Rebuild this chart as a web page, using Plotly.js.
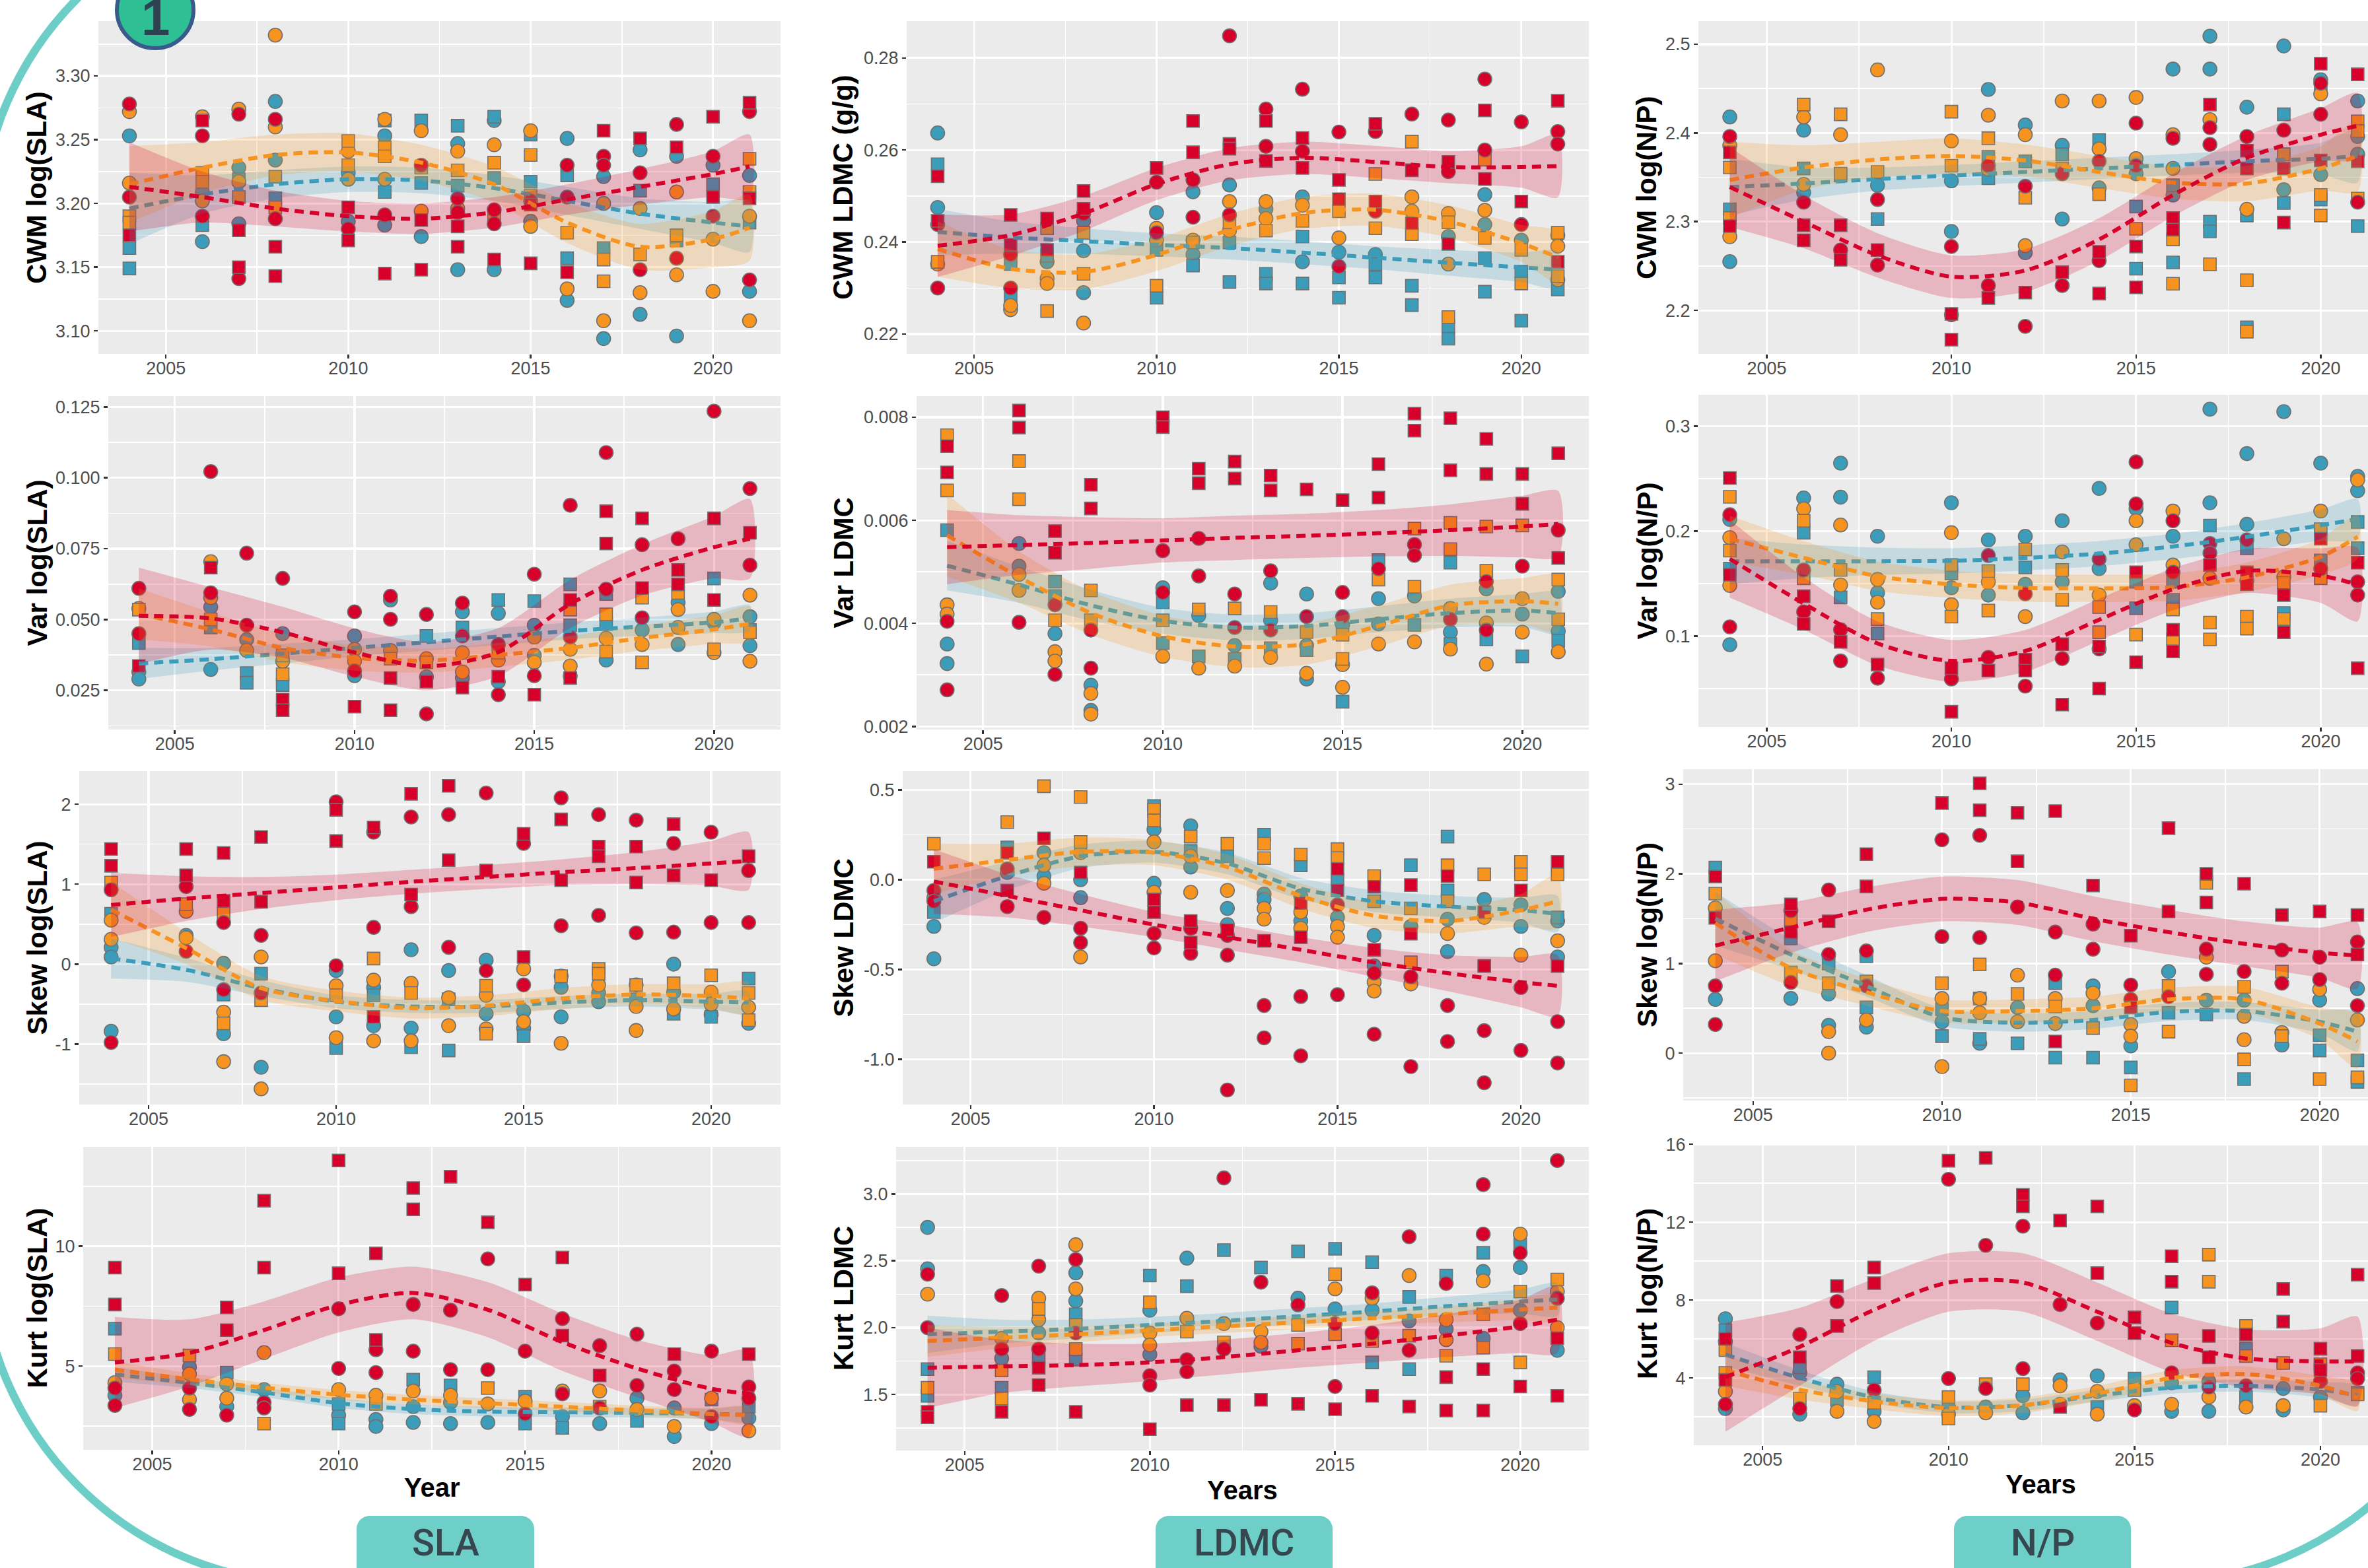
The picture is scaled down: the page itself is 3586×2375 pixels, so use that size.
<!DOCTYPE html>
<html><head><meta charset="utf-8">
<script src="https://cdn.plot.ly/plotly-3.0.1.min.js"></script>
<style>html,body{margin:0;padding:0;background:#fff;overflow:hidden}#chart{width:3586px;height:2375px}</style>
</head><body><div id="chart"></div>
<script>
// ---------------- data ----------------
const YEARS = [2004,2006,2007,2008,2010,2011,2012,2013,2014,2015,2016,2017,2018,2019,2020,2021];
const SMOOTH_X = [2004,2006,2008,2010,2012,2014,2016,2018,2020,2021];
const X_TICKS = [2005,2010,2015,2020];

// CWM log(SLA)
const cwmSLA_red_c = [[3.278,3.205],[3.253,3.19],[3.27,3.141],[3.266,3.188],[3.18],[3.191],[3.23],[3.204,3.193],[3.195,3.184],[3.202],[3.23,3.205],[3.237,3.23],[3.224,3.148],[3.262,3.157],[3.237,3.19],[3.272,3.14]];
const cwmSLA_red_s = [[3.175],[3.265],[3.15,3.179],[3.166,3.143],[3.197,3.171],[3.145],[3.187,3.148],[3.182,3.166],[3.156],[3.153,3.199],[3.146],[3.257],[3.251],[3.244],[3.268,3.205],[3.279,3.204]];
const cwmSLA_orange_c = [[3.272,3.216],[3.268,3.202],[3.274,3.217],[3.332,3.26],[3.241,3.219],[3.266,3.219],[3.257,3.194],[3.241,3.196],[3.246],[3.257,3.182],[3.133],[3.2,3.108],[3.196,3.13],[3.209,3.144],[3.172,3.131],[3.19,3.108]];
const cwmSLA_orange_s = [[3.19,3.185],[3.224,3.217],[3.205],[3.221,3.197],[3.249,3.23],[3.244,3.237],[3.228],[3.226],[3.232,3.192],[3.238,3.206],[3.177],[3.156,3.139],[3.16],[3.175],[],[3.235,3.209]];
const cwmSLA_blue_c = [[3.253],[3.17,3.209],[3.228,3.184],[3.28,3.234],[3.224,3.186],[3.253,3.183],[3.174],[3.247,3.148],[3.265,3.148],[3.186],[3.251,3.124],[3.221,3.094],[3.242,3.113],[3.237,3.096],[3.23],[3.222,3.131]];
const cwmSLA_blue_s = [[3.165,3.149],[3.183],[3.219],[3.204],[],[3.209,3.265],[3.265,3.216],[3.261,3.214],[3.268,3.22],[3.217,3.254],[3.222,3.157],[3.165],[3.21],[3.171],[3.215],[3.185]];
const cwmSLA_red_fit = [3.213,3.205,3.196,3.19,3.188,3.193,3.203,3.213,3.223,3.229];
const cwmSLA_red_se = [0.035,0.02,0.014,0.012,0.012,0.012,0.012,0.014,0.018,0.025];
const cwmSLA_orange_fit = [3.215,3.228,3.238,3.24,3.232,3.215,3.185,3.166,3.172,3.181];
const cwmSLA_orange_se = [0.03,0.02,0.016,0.015,0.014,0.014,0.016,0.018,0.022,0.026];
const cwmSLA_blue_fit = [3.196,3.207,3.215,3.219,3.218,3.212,3.202,3.192,3.185,3.182];
const cwmSLA_blue_se = [0.028,0.015,0.011,0.01,0.01,0.01,0.011,0.012,0.016,0.02];

// CWM LDMC
const cwmLDMC_red_c = [[0.2438,0.23],[0.2373,0.23],[],[0.2462],[0.253,0.242],[0.2535,0.2454],[0.2848,0.2459],[0.2689,0.2608],[0.2732,0.2597],[0.2639,0.2347],[0.264,0.2467],[0.2678],[0.2665,0.2553],[0.2754,0.26],[0.2661,0.2438],[0.264,0.2613]];
const cwmLDMC_red_s = [[0.2543,0.2446],[0.2459,0.2394],[0.2451,0.2383],[0.2511,0.2472],[0.2561],[0.2663,0.2595],[0.2613,0.2603],[0.2663,0.2576],[0.2626,0.2561],[0.2535,0.2493],[0.2657,0.2488],[0.2556,0.2441],[0.2574,0.2396],[0.2686,0.2537],[0.2488],[0.2707,0.2357]];
const cwmLDMC_orange_c = [[0.2352],[0.2253,0.2262],[0.2321,0.231],[0.2224],[0.243,0.2404],[0.2404],[0.2488,0.2425],[0.2488,0.2451],[0.248],[0.2409],[],[0.2498,0.2467],[0.2462,0.2352],[0.2469],[],[0.2391,0.2318]];
const cwmLDMC_orange_s = [[0.2357],[],[0.225,0.243],[0.2331,0.242],[0.2305],[0.2399],[0.2443],[0.2425],[0.2446],[0.2467],[0.2548,0.243],[0.2618,0.2417],[0.2443,0.2237],[0.2579,0.2409],[0.231,0.2383],[0.242,0.2326]];
const cwmLDMC_blue_c = [[0.2637,0.2475],[],[0.2357],[0.2446,0.2381,0.229],[0.2464],[0.2509,0.2373],[0.2524],[0.2472],[0.2498,0.2357],[0.2378],[0.2373],[],[0.2412],[0.2503,0.2438],[0.2404],[0.2415]];
const cwmLDMC_blue_s = [[0.2569],[0.2281,0.2352],[0.237],[],[0.2279,0.2383],[0.2349],[0.2313,0.2399],[0.2331,0.231],[0.2412,0.231],[0.2323,0.2279],[0.2352,0.2323],[0.2305,0.2263],[0.2216,0.219],[0.2365,0.2292],[0.2336,0.2229],[0.2297]];
const cwmLDMC_red_fit = [0.2392,0.2415,0.2462,0.2526,0.2569,0.2583,0.2574,0.2563,0.2563,0.2565];
const cwmLDMC_red_se = [0.0068,0.0045,0.0038,0.0035,0.0035,0.0035,0.0035,0.0035,0.0045,0.0068];
const cwmLDMC_orange_fit = [0.2385,0.2342,0.2335,0.2372,0.2426,0.2463,0.247,0.2445,0.2397,0.2367];
const cwmLDMC_orange_se = [0.006,0.0042,0.0038,0.0035,0.0035,0.0035,0.0035,0.0035,0.004,0.0055];
const cwmLDMC_blue_fit = [0.2422,0.241,0.2402,0.2394,0.2387,0.2377,0.2366,0.2355,0.2345,0.234];
const cwmLDMC_blue_se = [0.005,0.0035,0.0028,0.0025,0.0025,0.0025,0.0025,0.0028,0.0032,0.004];

// CWM log(N/P)
const cwmNP_red_c = [[2.396],[2.322],[2.268],[2.325,2.251],[2.272,2.195],[2.363,2.228],[2.34,2.182],[2.354,2.228],[2.368,2.256],[2.411,2.363],[2.394],[2.406,2.387],[2.396],[2.403],[2.456,2.421],[2.322]];
const cwmNP_red_s = [[2.378,2.295],[2.296,2.279],[2.296,2.257],[2.268],[2.196,2.167],[2.214],[2.22],[2.243],[2.266,2.219],[2.272,2.226],[2.304,2.291],[2.432],[2.38,2.36],[2.36,2.299],[2.478,2.369],[2.466,2.368]];
const cwmNP_orange_c = [[2.386,2.283],[2.418,2.342],[2.398],[2.471],[2.391],[2.42,2.359],[2.398,2.273],[2.436],[2.436,2.382],[2.44,2.371],[2.398,2.36],[2.415],[2.314],[],[2.444],[]];
const cwmNP_orange_s = [[2.361,2.304],[2.432],[2.421,2.354],[2.356],[2.424,2.363],[2.394],[2.327],[2.36],[2.331],[2.292],[2.28,2.23],[2.252],[2.234,2.176],[2.376],[2.33,2.307],[2.413,2.402,2.326]];
const cwmNP_blue_c = [[2.418,2.255],[2.403,2.333],[],[2.341],[2.346,2.289],[2.449],[2.409,2.265],[2.386,2.303],[2.338],[2.354],[2.472,2.33],[2.509,2.472],[2.429],[2.498,2.336],[2.46,2.353],[2.436,2.396,2.376]];
const cwmNP_blue_s = [[2.314],[2.36],[2.352],[2.303],[],[2.373,2.349],[2.368],[2.376],[2.392],[2.317,2.247],[2.341,2.254],[2.3,2.289],[2.307,2.181],[2.421,2.321],[2.449,2.325],[2.295]];
const cwmNP_red_fit = [2.339,2.30,2.262,2.238,2.245,2.28,2.33,2.372,2.398,2.408];
const cwmNP_red_se = [0.045,0.03,0.025,0.024,0.024,0.024,0.024,0.025,0.03,0.037];
const cwmNP_orange_fit = [2.347,2.361,2.37,2.374,2.369,2.356,2.344,2.343,2.36,2.374];
const cwmNP_orange_se = [0.043,0.025,0.02,0.02,0.018,0.018,0.018,0.02,0.025,0.04];
const cwmNP_blue_fit = [2.339,2.343,2.348,2.352,2.356,2.36,2.364,2.368,2.371,2.374];
const cwmNP_blue_se = [0.032,0.018,0.013,0.012,0.012,0.012,0.012,0.013,0.018,0.03];

// Var log(SLA)
const varSLA_red_c = [[0.061,0.045],[0.1022,0.0594],[0.0734,0.048],[0.0645],[0.0527,0.0319],[0.0582,0.0501],[0.0518,0.0167],[0.0558,0.0442],[0.0412,0.0235],[0.066,0.0302],[0.0903,0.0438],[0.1089,0.0607],[0.0764,0.0506],[0.0785],[0.1235],[0.0962,0.0692]];
const varSLA_red_s = [[0.0336],[0.0683],[],[0.0218,0.018],[0.0193],[0.0294,0.018],[0.0281],[0.026],[0.0298],[0.0235],[0.0569,0.0294],[0.0882,0.0768],[0.0857,0.0611],[0.0675,0.0624],[0.0857,0.0569],[0.0806]];
const varSLA_orange_c = [[0.0539],[0.0704,0.0577],[0.0391],[0.0353],[0.0395,0.0353],[0.0391],[0.0362],[0.0383,0.0315],[0.0357],[0.0438,0.0349],[0.0336,0.0395],[0.0434],[0.0412],[0.0535,0.0472],[0.0501,0.0383],[0.0586,0.0353]];
const varSLA_orange_s = [[0.0535],[0.0501],[],[0.0307,0.0374],[],[0.0362],[0.0349],[],[0.0383],[],[0.0535],[0.0518,0.0387],[0.0577,0.0349],[0.0594],[0.0395],[0.0455]];
const varSLA_blue_c = [[0.0315,0.029],[0.0544,0.0324],[0.0429],[0.045],[0.0442,0.0302],[0.0569],[0.0298],[0.0527,0.0294],[0.0522,0.0281],[0.048,0.0374],[0.0302],[0.0357],[0.0463],[0.056,0.0412],[0.0489],[0.051,0.0408]];
const varSLA_blue_s = [[0.0417],[0.0472],[0.0311,0.0277],[0.0269],[],[],[0.0442],[0.0472],[0.0569],[0.0565],[0.0624,0.048],[0.059,0.0484],[],[],[0.0645],[0.0463]];
const varSLA_red_fit = [0.0513,0.0504,0.0455,0.0384,0.0335,0.0385,0.0555,0.0675,0.0755,0.0785];
const varSLA_red_se = [0.017,0.011,0.009,0.0085,0.0085,0.0085,0.0085,0.009,0.011,0.014];
const varSLA_orange_fit = [0.052,0.0465,0.04,0.0365,0.0355,0.0375,0.04,0.0435,0.0465,0.0485];
const varSLA_orange_se = [0.009,0.006,0.005,0.0045,0.0042,0.0042,0.0042,0.0045,0.005,0.006];
const varSLA_blue_fit = [0.0345,0.036,0.038,0.04,0.042,0.044,0.046,0.0475,0.049,0.0505];
const varSLA_blue_se = [0.0055,0.004,0.0035,0.003,0.003,0.003,0.003,0.0032,0.0038,0.0045];

// Var LDMC
const varLDMC_red_c = [[0.00404,0.00271],[0.00402],[0.00436,0.00301],[0.00387,0.00313],[0.00541,0.0046],[0.00565,0.00492],[0.00457,0.00392],[0.00502,0.00387],[0.00413],[0.0046,0.00413],[0.00506],[0.00553,0.00532],[0.00408],[0.00481,0.00387],[0.00511],[0.00581]];
const varLDMC_red_s = [[0.00744,0.00693],[0.00813,0.0078],[0.00579,0.00537],[0.00669,0.00623],[0.008,0.00781],[0.007,0.00672],[0.00714,0.00681],[0.00687,0.00658],[0.0066],[0.00639],[0.00709,0.00644],[0.00807,0.00774],[0.00798,0.00697],[0.00758,0.0069],[0.0069,0.00632],[0.0073,0.00527]];
const varLDMC_orange_c = [[0.00436,0.00418],[0.00495,0.00464],[0.00345,0.00327],[0.00264,0.00224],[0.00336],[0.00313],[0.00317],[0.00334],[0.00303],[0.0032,0.00276],[0.0036],[0.00364],[0.00429,0.0035],[0.00401,0.00321],[0.00448,0.00383],[0.00345]];
const varLDMC_orange_s = [[0.00765,0.00658],[0.00715,0.00641],[0.00406],[0.00464,0.00406],[0.00406],[0.00427],[0.00429],[0.00422],[0.00383],[0.00378,0.00331],[0.00485],[0.00584,0.00471],[0.00595,0.00544],[0.00588,0.00502],[0.0059],[0.00485,0.00408]];
const varLDMC_blue_c = [[0.0036,0.00322],[0.00555,0.00511],[0.0038],[0.0028,0.00231],[0.00469],[0.00415],[0.00357],[0.00478,0.00406],[0.00457,0.00357,0.00292],[0.00397],[0.00448,0.00399],[0.00453],[0.00383],[0.00467],[0.00418],[0.00462,0.00385]];
const varLDMC_blue_s = [[0.00581],[],[0.00481,0.00453],[],[0.00441,0.00362],[0.00336],[0.00331],[0.00352],[0.00348],[0.00248],[0.00523],[0.00397],[0.00518,0.0036],[0.00369],[0.00336],[0.00366]];
const varLDMC_red_fit = [0.00548,0.00552,0.00556,0.00561,0.00566,0.0057,0.00575,0.00581,0.00588,0.00593];
const varLDMC_red_se = [0.00072,0.00058,0.0005,0.00043,0.00043,0.00043,0.00045,0.0005,0.0006,0.00064];
const varLDMC_orange_fit = [0.00571,0.0049,0.0042,0.00375,0.00355,0.0036,0.00395,0.00435,0.00443,0.00438];
const varLDMC_orange_se = [0.0008,0.0005,0.00042,0.0004,0.0004,0.0004,0.0004,0.0004,0.00045,0.00055];
const varLDMC_blue_fit = [0.00512,0.00475,0.00435,0.00405,0.00392,0.00395,0.00408,0.0042,0.00425,0.0042];
const varLDMC_blue_se = [0.00048,0.00035,0.0003,0.00025,0.00025,0.00025,0.00025,0.00028,0.00032,0.0004];

// Var log(N/P)
const varNP_red_c = [[0.2155,0.1087],[0.163,0.123],[0.106,0.0763],[0.0598],[0.0591],[0.1767,0.0797],[0.1402,0.0523],[0.0785],[0.1733,0.0877],[0.2658,0.2258],[0.2098,0.1607],[0.1881,0.179],[0.1916],[],[0.1642],[0.1516,0.139]];
const varNP_red_s = [[0.2505,0.1584],[0.1379,0.1116],[0.0945],[0.0728],[0.0694,0.0279],[0.0671],[0.0774,0.0671],[0.0922,0.0347],[0.09,0.05],[0.1607,0.0751],[0.1059,0.0854],[0.1676],[0.1607,0.1493],[0.139,0.1036],[0.1927],[0.1699,0.0694]];
const varNP_orange_c = [[0.1938,0.1482],[0.2212],[0.2057,0.1486],[0.1539,0.1322],[0.1984,0.1299],[0.1516],[0.1185],[0.1801],[0.139],[0.2098,0.187],[0.219,0.1676],[0.155],[0.1527],[0.1927,0.1562],[0.219],[0.2486]];
const varNP_orange_s = [[0.2326,0.1813],[0.2098,0.155],[0.163],[0.1162],[0.1676,0.1185],[0.1619,0.1242],[0.1824],[0.163,0.1345],[0.1276,0.1036],[0.1014],[0.1253,0.0968],[0.1128,0.0968],[0.1185,0.1071],[0.1505,0.1162],[0.2018,0.155],[]];
const varNP_blue_c = [[0.211,0.0918],[0.2315],[0.2646,0.2322],[0.195,0.1413],[0.2269,0.1459],[0.1916,0.139],[0.195,0.1493],[0.2098,0.1516],[0.2406,0.1642],[0.2212],[0.195],[0.316,0.2269],[0.2737,0.2064],[0.3137],[0.2646],[0.2521,0.2384]];
const varNP_blue_s = [[0.1642],[0.1984],[0.1368],[0.1025],[0.1596],[],[0.1653],[],[],[0.1516,0.1265],[0.1516,0.1345],[0.2052],[0.1836],[0.1219],[0.1721],[0.2087,0.1836]];
const varNP_red_fit = [0.1735,0.131,0.093,0.0763,0.0858,0.1155,0.1445,0.162,0.1575,0.149];
const varNP_red_se = [0.037,0.025,0.021,0.02,0.02,0.02,0.02,0.021,0.026,0.035];
const varNP_orange_fit = [0.1925,0.1745,0.157,0.1493,0.1457,0.1454,0.1465,0.156,0.1755,0.1945];
const varNP_orange_se = [0.022,0.016,0.014,0.013,0.013,0.013,0.013,0.014,0.017,0.021];
const varNP_blue_fit = [0.1712,0.1712,0.1712,0.1716,0.1744,0.1785,0.1853,0.1945,0.2055,0.2113];
const varNP_blue_se = [0.022,0.016,0.013,0.012,0.012,0.012,0.012,0.013,0.015,0.019];

// Skew log(SLA)
const skewSLA_red_c = [[0.93,-0.98],[0.97,0.16],[0.52,-0.32],[0.36,-0.36],[2.03,-0.02],[1.65,0.46],[1.84,0.72],[1.87,0.21],[2.14,-0.08],[1.51,-0.26],[2.08,0.48],[1.87,0.61],[1.8,0.39],[1.51,0.4],[1.65,0.52],[1.17,0.52]];
const skewSLA_red_s = [[1.44,1.23],[1.44,1.11],[1.39,0.79],[1.59,0.78],[1.93,1.54],[1.71,-0.66],[2.13,0.87],[2.23,1.3],[1.17],[1.63,0.09],[1.81,1.05],[1.47,1.35],[1.47,1.02],[1.75,1.11],[1.05],[1.35]];
const skewSLA_orange_c = [[0.55,0.31],[0.66,0.33],[-0.6,-1.22],[0.09,-1.56],[-0.27,-0.92],[-0.2,-0.96],[-0.24,-0.96],[-0.42,-0.77],[-0.39,-0.81],[-0.06,-0.72],[-0.15,-0.99],[-0.26],[-0.53,-0.83],[-0.56],[-0.35,-0.5],[-0.54]];
const skewSLA_orange_s = [[1.02],[0.75],[0.63,-0.74],[-0.45],[-0.39],[0.07],[-0.36],[],[-0.27,-0.87],[],[-0.15],[-0.06,-0.12],[-0.26],[-0.24],[-0.14],[-0.36,-0.7]];
const skewSLA_blue_c = [[0.21,0.09,-0.84],[0.36],[0.01,-0.87],[-1.29],[-0.08,-0.66],[-0.29,-0.77],[0.18,-0.8],[-0.08],[0.05,-0.62],[-0.59,-0.8],[-0.29,-0.66],[-0.47,-0.36],[-0.26],[0.0,-0.35],[-0.63],[-0.74]];
const skewSLA_blue_s = [[0.63],[],[-0.38],[-0.12],[-1.05],[-0.39],[-1.04],[-0.44,-1.08],[],[-0.9],[],[],[-0.44],[-0.62],[-0.66],[-0.18]];
const skewSLA_red_fit = [0.74,0.82,0.89,0.96,1.03,1.09,1.15,1.2,1.26,1.29];
const skewSLA_red_se = [0.4,0.28,0.2,0.16,0.15,0.15,0.16,0.2,0.28,0.36];
const skewSLA_orange_fit = [0.68,0.2,-0.3,-0.46,-0.55,-0.52,-0.43,-0.38,-0.4,-0.43];
const skewSLA_orange_se = [0.35,0.2,0.15,0.13,0.13,0.13,0.13,0.13,0.15,0.2];
const skewSLA_blue_fit = [0.07,-0.07,-0.3,-0.47,-0.53,-0.53,-0.48,-0.45,-0.47,-0.48];
const skewSLA_blue_se = [0.25,0.15,0.1,0.08,0.08,0.08,0.08,0.08,0.1,0.14];

// Skew LDMC
const skewLDMC_red_c = [[-0.06,-0.12],[0.06,-0.15],[-0.21],[-0.27,-0.35],[-0.3,-0.38],[-0.27,-0.41],[-0.31,-0.42,-1.17],[-0.7,-0.88],[-0.65,-0.98],[-0.14,-0.64],[-0.52,-0.86],[-0.54,-1.04],[-0.7,-0.9],[-0.84,-1.13],[-0.6,-0.95],[-0.79,-1.02]];
const skewLDMC_red_s = [[0.1],[0.15,-0.06],[0.23],[0.04],[-0.11,-0.18],[-0.23,-0.35],[-0.28],[-0.34],[-0.13,-0.32],[0.06,-0.06],[-0.04,-0.39],[-0.03,-0.3],[0.02],[-0.18,-0.48],[-0.06],[0.1,-0.48]];
const skewLDMC_orange_c = [[-0.1],[],[0.08,-0.02],[0.15,-0.43],[0.21,-0.07],[0.13,-0.07],[-0.06],[-0.16,-0.22],[-0.18,-0.27],[-0.26,-0.32],[-0.57,-0.62],[-0.58],[-0.3],[-0.21],[-0.42],[-0.34]];
const skewLDMC_orange_s = [[0.2],[0.32],[0.52],[0.46,0.21],[0.39,0.33],[0.24],[0.2],[0.2,0.12],[0.14],[0.17,0.12],[0.02,-0.12],[-0.16,-0.46],[0.08,-0.12],[0.03],[0.1,0.03],[0.03]];
const skewLDMC_blue_c = [[-0.26,-0.44],[0.04],[0.15,0.02],[0.0,-0.1],[0.28,-0.02],[0.3,0.07],[-0.16,-0.25],[-0.08,-0.11],[-0.09,-0.23],[-0.21],[-0.31,-0.48],[-0.26],[-0.22,-0.4],[-0.11],[-0.14,-0.26],[-0.23,-0.43]];
const skewLDMC_blue_s = [[-0.18],[0.18],[],[],[0.41],[0.16],[0.13],[0.25],[0.08],[0.0],[],[0.08],[0.24,-0.06],[],[],[-0.21]];
const skewLDMC_red_fit = [-0.01,-0.09,-0.17,-0.25,-0.32,-0.39,-0.46,-0.52,-0.57,-0.59];
const skewLDMC_red_se = [0.18,0.12,0.09,0.07,0.07,0.07,0.08,0.1,0.14,0.17];
const skewLDMC_orange_fit = [0.06,0.11,0.155,0.15,0.07,-0.09,-0.2,-0.23,-0.17,-0.12];
const skewLDMC_orange_se = [0.14,0.09,0.08,0.07,0.07,0.07,0.07,0.07,0.09,0.15];
const skewLDMC_blue_fit = [-0.12,0.02,0.13,0.155,0.09,-0.05,-0.12,-0.15,-0.17,-0.19];
const skewLDMC_blue_se = [0.12,0.08,0.065,0.06,0.06,0.06,0.06,0.06,0.07,0.1];

// Skew log(N/P)
const skewNP_red_c = [[0.75,0.32],[1.59,0.79],[1.82,1.1],[1.14,0.75],[2.38,1.3],[2.43,1.29],[1.63],[1.35,0.87],[1.44,1.16],[0.76,0.6],[0.63],[1.16,0.88],[0.91],[1.15,0.78],[1.07,0.82],[1.24,0.53]];
const skewNP_red_s = [[1.97,1.51],[1.66,1.35],[1.47],[2.22,1.86],[2.79],[3.01,2.71],[2.68,2.14],[2.7,0.13],[1.87],[1.31,0.51],[2.51,1.58],[2.0,1.68],[1.89],[1.54],[1.58],[1.54,1.1]];
const skewNP_orange_c = [[1.62,1.03],[],[0.24,0.0],[0.37],[0.61,-0.15],[0.61,0.45],[0.87,0.35],[0.61,0.33],[0.67],[0.32,0.19],[],[1.07],[0.41,0.15],[0.23],[0.71],[0.37]];
const skewNP_orange_s = [[1.78],[1.48,0.9],[0.78],[0.8],[0.78],[0.99],[0.66],[0.52],[0.28],[-0.36],[0.75,0.24],[1.9],[0.74,-0.07],[0.91,0.19],[-0.29],[-0.27]];
const skewNP_blue_c = [[0.6],[0.61],[0.66,0.31],[0.29],[0.35],[0.11],[0.51],[],[0.75,0.53],[0.08],[0.91],[0.59],[0.59],[0.09],[0.59],[0.72]];
const skewNP_blue_s = [[2.07],[1.28],[1.0],[1.08,0.51],[0.49,0.19],[0.61,0.16],[0.11],[0.78,-0.05],[-0.05],[-0.16],[0.45],[0.43],[-0.29],[],[0.2,0.03],[-0.08,-0.32]];
const skewNP_red_fit = [1.2,1.4,1.6,1.72,1.68,1.5,1.35,1.22,1.12,1.09];
const skewNP_red_se = [0.4,0.28,0.25,0.25,0.25,0.25,0.25,0.25,0.28,0.37];
const skewNP_orange_fit = [1.45,0.95,0.68,0.47,0.47,0.5,0.6,0.6,0.33,0.13];
const skewNP_orange_se = [0.35,0.2,0.15,0.13,0.13,0.13,0.13,0.14,0.18,0.3];
const skewNP_blue_fit = [1.5,1.1,0.75,0.4,0.34,0.37,0.46,0.47,0.35,0.24];
const skewNP_blue_se = [0.3,0.17,0.12,0.1,0.1,0.1,0.1,0.1,0.13,0.22];

// Kurt log(SLA)
const kurtSLA_red_c = [[4.08,3.36],[4.08,3.19],[2.95],[3.48,3.25],[7.39,4.9],[5.68,4.73],[7.57,5.62],[7.33,4.85],[9.47,4.85],[5.62,3.01],[6.98,3.84],[5.85,3.25],[6.33,4.19],[4.79,4.02],[5.62,2.89],[4.13,3.66]];
const kurtSLA_red_s = [[9.11,7.57],[],[7.45,6.5],[11.9,9.11],[13.58,8.87],[9.7,6.09],[12.43,11.54],[12.9],[11.0],[8.4],[9.53,6.27],[4.61],[],[5.5],[],[5.5]];
const kurtSLA_orange_c = [[4.31],[4.67,3.6],[4.25,3.66],[5.56],[4.02],[3.78],[3.96],[3.78],[3.42],[3.54],[3.96],[3.96],[3.19],[2.48],[3.66],[2.3]];
const kurtSLA_orange_s = [[5.5],[5.44],[],[2.6],[],[3.42],[],[],[4.08],[],[],[3.31],[],[],[],[]];
const kurtSLA_blue_c = [[3.78],[4.96],[3.31],[4.02],[2.95],[2.77,2.48],[3.31,2.65],[3.48,2.6],[2.65],[],[2.89],[2.6],[3.66],[3.25,2.06],[2.6],[2.83]];
const kurtSLA_blue_s = [[6.56],[],[4.73],[],[3.42,2.6],[],[4.43],[4.19],[],[3.72,2.6],[2.42],[],[2.71],[],[3.6],[3.31]];
const kurtSLA_red_fit = [5.15,5.55,6.5,7.55,8.05,7.35,6.0,4.9,4.05,3.85];
const kurtSLA_red_se = [1.9,1.4,1.2,1.15,1.1,1.15,1.2,1.2,1.4,1.8];
const kurtSLA_orange_fit = [4.85,4.45,4.1,3.8,3.6,3.45,3.3,3.15,3.0,2.95];
const kurtSLA_orange_se = [0.35,0.25,0.2,0.2,0.2,0.2,0.2,0.2,0.25,0.35];
const kurtSLA_blue_fit = [4.65,4.3,3.9,3.45,3.2,3.1,3.07,3.05,3.0,2.97];
const kurtSLA_blue_se = [0.3,0.22,0.2,0.2,0.2,0.2,0.2,0.2,0.22,0.3];

// Kurt LDMC
const kurtLDMC_red_c = [[2.4,2.0],[2.24,1.84],[2.46,1.84],[2.51,1.96],[1.64,1.57],[1.76,1.67],[3.12,1.84],[2.34],[2.17],[2.03,1.56],[2.26,1.96],[2.68,1.83],[2.33],[3.07,2.7],[2.56,2.03],[3.25,2.22]];
const kurtLDMC_red_s = [[1.37,1.33],[1.37],[1.7,1.57],[1.37],[1.24],[1.42],[1.42],[1.46],[1.43],[1.39],[1.49],[1.41],[1.63,1.38],[1.69,1.38],[1.56],[1.92,1.49]];
const kurtLDMC_orange_c = [[2.25],[1.92],[2.22,2.06],[2.62,2.29],[1.96,1.87],[2.07],[2.03],[1.97,1.89],[],[2.29],[2.22],[2.39],[2.06,1.91],[2.35],[2.7],[2.27,2.0]];
const kurtLDMC_orange_s = [[1.55],[1.68,1.47],[2.14],[2.02,1.84],[2.19],[1.97],[1.89],[],[2.02,1.88],[2.4,1.95],[1.9],[1.94],[1.79],[2.1,1.85],[2.27,1.74],[2.36]];
const kurtLDMC_blue_c = [[2.75,2.44],[1.77],[1.96],[2.41,2.2],[2.13,1.8],[2.52],[],[1.86],[2.22],[2.14],[2.13],[2.05],[1.99],[2.42,1.92],[2.45,2.13],[1.83]];
const kurtLDMC_blue_s = [[1.69,1.49],[1.55],[1.77],[2.1,1.76],[2.39],[2.31],[2.58],[2.45],[2.57],[2.59],[2.49,1.74],[2.23,1.69],[2.39],[2.56],[2.62],[]];
const kurtLDMC_red_fit = [1.7,1.71,1.72,1.74,1.78,1.83,1.88,1.94,2.01,2.06];
const kurtLDMC_red_se = [0.3,0.2,0.16,0.14,0.13,0.13,0.14,0.16,0.2,0.25];
const kurtLDMC_orange_fit = [1.9,1.925,1.95,1.98,2.01,2.04,2.07,2.1,2.135,2.15];
const kurtLDMC_orange_se = [0.12,0.08,0.06,0.05,0.05,0.05,0.05,0.06,0.08,0.1];
const kurtLDMC_blue_fit = [1.95,1.97,1.99,2.02,2.05,2.085,2.12,2.16,2.195,2.21];
const kurtLDMC_blue_se = [0.14,0.09,0.07,0.06,0.06,0.06,0.06,0.07,0.09,0.12];

// Kurt log(N/P)
const kurtNP_red_c = [[2.65],[6.23,2.43],[7.92],[3.38],[14.2,3.97],[10.81,3.46],[11.79,4.48],[7.77],[6.82],[2.36],[4.26],[3.53],[3.6],[],[3.82],[4.26,3.97]];
const kurtNP_red_s = [[6.01,3.9],[5.06],[8.72,6.67],[9.67,8.87],[15.15],[15.3],[13.4,12.81],[12.08,2.51],[12.81,9.38],[7.11,6.3],[10.25,8.94],[6.16,5.06],[6.23],[8.57,6.89],[5.5,4.41],[9.3,5.13]];
const kurtNP_orange_c = [[5.87,3.31],[],[3.31,2.29],[1.77],[2.14],[2.21],[],[3.6,2.65],[3.31,2.14],[2.58],[2.65],[3.02],[2.51],[2.58],[],[]];
const kurtNP_orange_s = [[5.43,4.26],[2.94],[],[2.73],[3.02,1.92],[3.68],[3.68],[],[],[3.38],[5.94],[10.33,8.94],[6.67,5.13],[4.77],[4.7,2.58],[3.16]];
const kurtNP_blue_c = [[7.04,2.43],[4.26,2.14],[3.68],[2.29],[2.51],[2.51],[3.09,2.21],[3.9],[4.11],[],[3.75,2.29],[3.82,2.29],[],[3.46,2.36],[3.02],[]];
const kurtNP_blue_s = [[6.45],[4.55],[2.87],[4.04],[],[],[],[],[2.51],[3.97],[7.62],[],[5.5,3.02],[],[],[3.24]];
const kurtNP_red_fit = [4.04,5.6,7.5,8.9,8.9,7.4,5.8,5.0,4.85,4.85];
const kurtNP_red_se = [2.8,2.0,1.6,1.5,1.5,1.5,1.5,1.5,1.7,2.3];
const kurtNP_orange_fit = [4.4,3.4,2.8,2.45,2.6,3.2,4.0,4.2,3.6,3.0];
const kurtNP_orange_se = [0.8,0.5,0.4,0.4,0.4,0.4,0.4,0.4,0.5,0.7];
const kurtNP_blue_fit = [5.2,4.0,3.0,2.5,2.6,3.1,3.5,3.6,3.4,3.1];
const kurtNP_blue_se = [0.6,0.4,0.3,0.3,0.3,0.3,0.3,0.3,0.4,0.5];

const Y_TITLES = ['CWM log(SLA)','CWM LDMC (g/g)','CWM log(N/P)','Var log(SLA)','Var LDMC','Var log(N/P)','Skew log(SLA)','Skew LDMC','Skew log(N/P)','Kurt log(SLA)','Kurt LDMC','Kurt log(N/P)'];
const Y_TICKS = [[3.10,3.15,3.20,3.25,3.30],[0.22,0.24,0.26,0.28],[2.2,2.3,2.4,2.5],[0.025,0.05,0.075,0.1,0.125],[0.002,0.004,0.006,0.008],[0.1,0.2,0.3],[-1,0,1,2],[-1,-0.5,0,0.5],[0,1,2,3],[5,10],[1.5,2,2.5,3],[4,8,12,16]];
const Y_DEC = [2,2,1,3,3,1,0,1,0,0,1,0];
const Y_RANGE = [[3.082,3.343],[0.2157,0.288],[2.151,2.526],[0.0112,0.1288],[0.00194,0.00841],[0.0135,0.3297],[-1.756,2.414],[-1.251,0.604],[-0.529,3.168],[1.505,14.15],[1.081,3.353],[0.55,16.07]];
const COLUMN_LABELS = ['SLA','LDMC','N/P'];
const X_TITLES = ['Year','Years','Years'];

// ---------------- build ----------------
const PANELS = [
  [cwmSLA_blue_c,cwmSLA_blue_s,cwmSLA_orange_c,cwmSLA_orange_s,cwmSLA_red_c,cwmSLA_red_s, cwmSLA_blue_fit,cwmSLA_blue_se,cwmSLA_orange_fit,cwmSLA_orange_se,cwmSLA_red_fit,cwmSLA_red_se],
  [cwmLDMC_blue_c,cwmLDMC_blue_s,cwmLDMC_orange_c,cwmLDMC_orange_s,cwmLDMC_red_c,cwmLDMC_red_s, cwmLDMC_blue_fit,cwmLDMC_blue_se,cwmLDMC_orange_fit,cwmLDMC_orange_se,cwmLDMC_red_fit,cwmLDMC_red_se],
  [cwmNP_blue_c,cwmNP_blue_s,cwmNP_orange_c,cwmNP_orange_s,cwmNP_red_c,cwmNP_red_s, cwmNP_blue_fit,cwmNP_blue_se,cwmNP_orange_fit,cwmNP_orange_se,cwmNP_red_fit,cwmNP_red_se],
  [varSLA_blue_c,varSLA_blue_s,varSLA_orange_c,varSLA_orange_s,varSLA_red_c,varSLA_red_s, varSLA_blue_fit,varSLA_blue_se,varSLA_orange_fit,varSLA_orange_se,varSLA_red_fit,varSLA_red_se],
  [varLDMC_blue_c,varLDMC_blue_s,varLDMC_orange_c,varLDMC_orange_s,varLDMC_red_c,varLDMC_red_s, varLDMC_blue_fit,varLDMC_blue_se,varLDMC_orange_fit,varLDMC_orange_se,varLDMC_red_fit,varLDMC_red_se],
  [varNP_blue_c,varNP_blue_s,varNP_orange_c,varNP_orange_s,varNP_red_c,varNP_red_s, varNP_blue_fit,varNP_blue_se,varNP_orange_fit,varNP_orange_se,varNP_red_fit,varNP_red_se],
  [skewSLA_blue_c,skewSLA_blue_s,skewSLA_orange_c,skewSLA_orange_s,skewSLA_red_c,skewSLA_red_s, skewSLA_blue_fit,skewSLA_blue_se,skewSLA_orange_fit,skewSLA_orange_se,skewSLA_red_fit,skewSLA_red_se],
  [skewLDMC_blue_c,skewLDMC_blue_s,skewLDMC_orange_c,skewLDMC_orange_s,skewLDMC_red_c,skewLDMC_red_s, skewLDMC_blue_fit,skewLDMC_blue_se,skewLDMC_orange_fit,skewLDMC_orange_se,skewLDMC_red_fit,skewLDMC_red_se],
  [skewNP_blue_c,skewNP_blue_s,skewNP_orange_c,skewNP_orange_s,skewNP_red_c,skewNP_red_s, skewNP_blue_fit,skewNP_blue_se,skewNP_orange_fit,skewNP_orange_se,skewNP_red_fit,skewNP_red_se],
  [kurtSLA_blue_c,kurtSLA_blue_s,kurtSLA_orange_c,kurtSLA_orange_s,kurtSLA_red_c,kurtSLA_red_s, kurtSLA_blue_fit,kurtSLA_blue_se,kurtSLA_orange_fit,kurtSLA_orange_se,kurtSLA_red_fit,kurtSLA_red_se],
  [kurtLDMC_blue_c,kurtLDMC_blue_s,kurtLDMC_orange_c,kurtLDMC_orange_s,kurtLDMC_red_c,kurtLDMC_red_s, kurtLDMC_blue_fit,kurtLDMC_blue_se,kurtLDMC_orange_fit,kurtLDMC_orange_se,kurtLDMC_red_fit,kurtLDMC_red_se],
  [kurtNP_blue_c,kurtNP_blue_s,kurtNP_orange_c,kurtNP_orange_s,kurtNP_red_c,kurtNP_red_s, kurtNP_blue_fit,kurtNP_blue_se,kurtNP_orange_fit,kurtNP_orange_se,kurtNP_red_fit,kurtNP_red_se]
];

const W = 3586, H = 2375;
// panel boxes in pixels: [left, right, top, bottom]
const BOX = [
  [149,1182,32,536],[1373,2406,32,536],[2572,3586,32,536],
  [164,1182,600,1105],[1388,2406,600,1105],[2572,3586,598,1101],
  [120,1182,1168,1673],[1367,2406,1168,1673],[2549,3586,1165,1667],
  [126,1182,1737,2196],[1357,2406,1737,2197],[2565,3586,1731,2189]
];
const TITLE_X = [56,1277,2494];
const COLS = ['#3B9DBA','#F7941F','#D7002A'];
const FILLS = ['rgba(59,157,186,0.22)','rgba(247,148,31,0.22)','rgba(215,0,42,0.22)'];
const FONT = 'Liberation Sans, Arial, Helvetica, sans-serif';

const traces = [];
const layout = {
  width: W, height: H, margin: {l:0,r:0,t:0,b:0},
  paper_bgcolor: '#FFFFFF', plot_bgcolor: '#EBEBEB',
  showlegend: false, annotations: [], shapes: []
};

function flatten(arr) {
  const x = [], y = [];
  arr.forEach((vals, i) => vals.forEach(v => { x.push(YEARS[i]); y.push(v); }));
  return {x, y};
}

PANELS.forEach((p, i) => {
  const n = i === 0 ? '' : String(i + 1);
  const xa = 'x' + n, ya = 'y' + n;
  const col = i % 3;
  const b = BOX[i];
  const xmax = col === 2 ? 2021.28 : 2021.85;
  const majors = Y_TICKS[i];
  const step = majors[1] - majors[0];
  const minors = [];
  for (let k = -3; k < majors.length + 3; k++) minors.push(majors[0] + (k + 0.5) * step);

  layout['xaxis' + n] = {
    domain: [b[0] / W, b[1] / W], anchor: ya, range: [2003.15, xmax],
    tickmode: 'array', tickvals: X_TICKS, ticktext: X_TICKS.map(String),
    showgrid: true, gridcolor: '#FFFFFF', gridwidth: 3.2,
    minor: {tickmode: 'array', tickvals: [2002.5,2007.5,2012.5,2017.5,2022.5], showgrid: true, gridcolor: '#FFFFFF', gridwidth: 1.6},
    ticks: 'outside', ticklen: 6, tickwidth: 2.5, tickcolor: '#333333', ticklabelstandoff: -8,
    tickfont: {family: FONT, size: 27, color: '#4D4D4D'},
    zeroline: false, showline: false, fixedrange: true
  };
  layout['yaxis' + n] = {
    domain: [1 - b[3] / H, 1 - b[2] / H], anchor: xa, range: Y_RANGE[i],
    tickmode: 'array', tickvals: majors, ticktext: majors.map(v => v.toFixed(Y_DEC[i])),
    showgrid: true, gridcolor: '#FFFFFF', gridwidth: 3.2,
    minor: {tickmode: 'array', tickvals: minors, showgrid: true, gridcolor: '#FFFFFF', gridwidth: 1.6},
    ticks: 'outside', ticklen: 6, tickwidth: 2.5, tickcolor: '#333333',
    tickfont: {family: FONT, size: 27, color: '#4D4D4D'},
    zeroline: false, showline: false, fixedrange: true
  };

  // points: blue, orange, red (circles then squares)
  for (let g = 0; g < 3; g++) {
    const c = flatten(p[g * 2]), s = flatten(p[g * 2 + 1]);
    traces.push({type:'scatter', mode:'markers', xaxis:xa, yaxis:ya, x:c.x, y:c.y, hoverinfo:'skip',
      marker:{symbol:'circle', size:21, color:COLS[g], line:{color:'#707070', width:1.6}}});
    traces.push({type:'scatter', mode:'markers', xaxis:xa, yaxis:ya, x:s.x, y:s.y, hoverinfo:'skip',
      marker:{symbol:'square', size:19, color:COLS[g], line:{color:'#707070', width:1.6}}});
  }
  // smooth: ribbon then line for each group
  for (let g = 0; g < 3; g++) {
    const fit = p[6 + g * 2], se = p[7 + g * 2];
    const hi = fit.map((v, k) => v + se[k]);
    const lo = fit.map((v, k) => v - se[k]);
    traces.push({type:'scatter', mode:'lines', xaxis:xa, yaxis:ya, hoverinfo:'skip',
      x: SMOOTH_X.concat(SMOOTH_X.slice().reverse()), y: hi.concat(lo.slice().reverse()),
      fill:'toself', fillcolor: FILLS[g], line:{width:0, shape:'spline', smoothing:0.7}});
    traces.push({type:'scatter', mode:'lines', xaxis:xa, yaxis:ya, hoverinfo:'skip',
      x: SMOOTH_X, y: fit, line:{color:COLS[g], width:6, dash:'14px,9px', shape:'spline', smoothing:0.8}});
  }

  layout.annotations.push({
    xref:'paper', yref:'paper', x: TITLE_X[col] / W, y: 1 - (b[2] + b[3]) / 2 / H,
    text: Y_TITLES[i], textangle: -90, showarrow: false, xanchor:'center', yanchor:'middle',
    font: {family: FONT, size: 42, color: '#000000', weight: 'bold'}
  });
});

// x titles
[[654,2253],[1882,2257],[3090,2248]].forEach((pt, c) => {
  layout.annotations.push({xref:'paper', yref:'paper', x: pt[0] / W, y: 1 - pt[1] / H, text: X_TITLES[c],
    showarrow:false, xanchor:'center', yanchor:'middle', font:{family:FONT, size:40, color:'#000000', weight:'bold'}});
});

function rrPath(x0, y0, x1, y1, r) {
  const k = 0.5523 * r;
  const P = (x, y) => (x / W).toFixed(5) + ',' + (1 - y / H).toFixed(5);
  return 'M' + P(x0 + r, y0) + ' L' + P(x1 - r, y0) +
    ' C' + P(x1 - r + k, y0) + ' ' + P(x1, y0 + r - k) + ' ' + P(x1, y0 + r) +
    ' L' + P(x1, y1 - r) +
    ' C' + P(x1, y1 - r + k) + ' ' + P(x1 - r + k, y1) + ' ' + P(x1 - r, y1) +
    ' L' + P(x0 + r, y1) +
    ' C' + P(x0 + r - k, y1) + ' ' + P(x0, y1 - r + k) + ' ' + P(x0, y1 - r) +
    ' L' + P(x0, y0 + r) +
    ' C' + P(x0, y0 + r - k) + ' ' + P(x0 + r - k, y0) + ' ' + P(x0 + r, y0) + ' Z';
}

// big teal frame
layout.shapes.push({type:'path', xref:'paper', yref:'paper', path: rrPath(-30, -151, 3770, 2398, 505),
  line:{color:'#6DCDC7', width:12}, fillcolor:'rgba(0,0,0,0)', layer:'above'});
// column label boxes
[[540,809],[1750,2018],[2959,3227]].forEach((bx, c) => {
  layout.shapes.push({type:'path', xref:'paper', yref:'paper', path: rrPath(bx[0], 2296, bx[1], 2430, 20),
    line:{width:0}, fillcolor:'#6ECEC8', layer:'above'});
  layout.annotations.push({xref:'paper', yref:'paper', x: (bx[0] + bx[1]) / 2 / W, y: 1 - 2337 / H,
    text: COLUMN_LABELS[c], showarrow:false, xanchor:'center', yanchor:'middle',
    font:{family:'Roboto, Liberation Sans, sans-serif', size:56, color:'#36474F', weight:500}});
});
// badge
layout.shapes.push({type:'circle', xref:'paper', yref:'paper', x0: 177 / W, x1: 293 / W, y0: 1 - 73 / H, y1: 1 + 43 / H,
  fillcolor:'#2FBF94', line:{color:'#3B5A8C', width:6}, layer:'above'});
layout.annotations.push({xref:'paper', yref:'paper', x: 235 / W, y: 1 - 26 / H, text:'1', showarrow:false,
  xanchor:'center', yanchor:'middle', font:{family:FONT, size:78, color:'#2E4150', weight:'bold'}});

Plotly.newPlot('chart', traces, layout, {displayModeBar:false, staticPlot:true});
</script>
</body></html>
